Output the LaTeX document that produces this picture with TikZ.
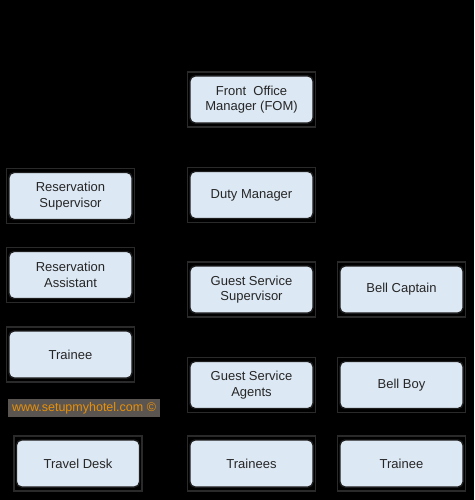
\documentclass[tikz,border=0pt]{standalone}
\usepackage{fontspec}
\setmainfont{Liberation Sans}
\definecolor{boxfill}{HTML}{DCE8F4}
\definecolor{boxline}{HTML}{1E1E1E}
\definecolor{framec}{HTML}{2A2A2A}
\definecolor{wmbg}{HTML}{5A5550}
\definecolor{wmtext}{HTML}{E8900A}
\begin{document}
\begin{tikzpicture}[x=1pt,y=-1pt,
  role/.style={draw=boxline,line width=1.4pt,fill=boxfill,rounded corners=5pt,
    minimum width=123pt,minimum height=47pt,align=center,inner sep=2pt,
    font=\fontsize{13}{15.3}\selectfont,text=black!85},
  frame/.style={draw=framec,line width=1.2pt,minimum width=128pt,minimum height=55pt,inner sep=0pt}]
\fill[black] (0,0) rectangle (474,500);
\useasboundingbox (0,0) rectangle (474,500);
% frames (faint outlines behind boxes)
\foreach \x/\y in {251.5/99.5, 70.5/196, 251.5/195, 70.5/275, 251.5/289.5, 401.5/289.5,
  70.5/354.5, 251.5/385, 401.5/385, 78/463.5, 251.5/463.5, 401.5/463.5}
  \node[frame] at (\x,\y) {};
\node[role] (fom) at (251.5,99.5) {Front\ \ Office\\Manager (FOM)};
\node[role] (rs) at (70.5,196) {Reservation\\Supervisor};
\node[role] (dm) at (251.5,195) {Duty Manager};
\node[role] (ra) at (70.5,275) {Reservation\\Assistant};
\node[role] (gss) at (251.5,289.5) {Guest Service\\Supervisor};
\node[role] (bc) at (401.5,289.5) {Bell Captain};
\node[role] (tl) at (70.5,354.5) {Trainee};
\node[role] (gsa) at (251.5,385) {Guest Service\\Agents};
\node[role] (bb) at (401.5,385) {Bell Boy};
\node[role] (td) at (78,463.5) {Travel Desk};
\node[role] (ts) at (251.5,463.5) {Trainees};
\node[role] (tr) at (401.5,463.5) {Trainee};
\node[fill=wmbg,text=wmtext,minimum width=152pt,minimum height=18pt,inner sep=0pt,
  font=\fontsize{12.5}{13}\selectfont] (wm) at (84,408) {www.setupmyhotel.com \textcopyright};
\end{tikzpicture}
\end{document}
